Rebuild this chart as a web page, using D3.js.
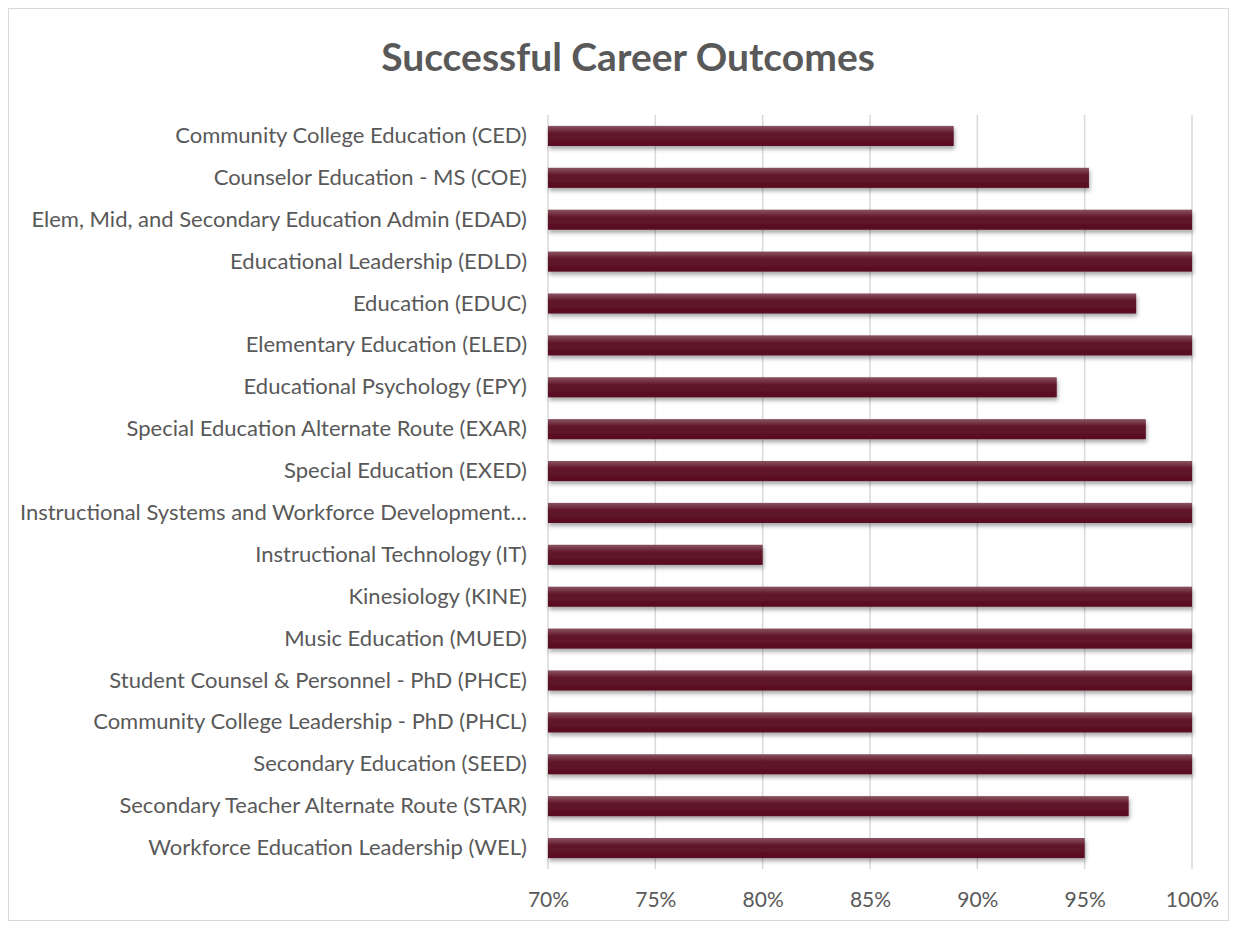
<!DOCTYPE html>
<meta charset="utf-8">
<title>Successful Career Outcomes</title>
<style>
body { margin: 0; background: #fff; }
text { font-family: Lato, "Open Sans", sans-serif; fill: #595959; }
.title { font-size: 39px; font-weight: bold; }
.grid line { stroke: #d9d9d9; stroke-width: 1.5px; }
</style>
<body>
<script src="https://cdn.jsdelivr.net/npm/d3@7"></script>
<script>

var programs = [
  "Community College Education (CED)",
  "Counselor Education - MS (COE)",
  "Elem, Mid, and Secondary Education Admin (EDAD)",
  "Educational Leadership (EDLD)",
  "Education (EDUC)",
  "Elementary Education (ELED)",
  "Educational Psychology (EPY)",
  "Special Education Alternate Route (EXAR)",
  "Special Education (EXED)",
  "Instructional Systems and Workforce Development…",
  "Instructional Technology (IT)",
  "Kinesiology (KINE)",
  "Music Education (MUED)",
  "Student Counsel & Personnel - PhD (PHCE)",
  "Community College Leadership - PhD (PHCL)",
  "Secondary Education (SEED)",
  "Secondary Teacher Alternate Route (STAR)",
  "Workforce Education Leadership (WEL)"
];

var outcomes = [88.9, 95.2, 100, 100, 97.4, 100, 93.7, 97.85, 100, 100,
                80.0, 100, 100, 100, 100, 100, 97.05, 95.0];

var ticks = [70, 75, 80, 85, 90, 95, 100];

var width = 1236,
    height = 926,
    plotLeft = 548, plotRight = 1192, plotTop = 115, plotBottom = 869;

var svg = d3.select("body").append("svg")
    .attr("width", width)
    .attr("height", height);

var defs = svg.append("defs");

var grad = defs.append("linearGradient")
    .attr("id", "barfill")
    .attr("x1", 0).attr("y1", 0).attr("x2", 0).attr("y2", 1);
grad.append("stop").attr("offset", "0%").attr("stop-color", "#8a5462");
grad.append("stop").attr("offset", "35%").attr("stop-color", "#63192c");
grad.append("stop").attr("offset", "100%").attr("stop-color", "#580c21");

var shadow = defs.append("filter")
    .attr("id", "shadow")
    .attr("x", "-5%").attr("y", "-30%").attr("width", "110%").attr("height", "180%");
shadow.append("feDropShadow")
    .attr("dx", 1).attr("dy", 3).attr("stdDeviation", 2)
    .attr("flood-color", "#000").attr("flood-opacity", 0.35);

// chart border
svg.append("rect")
    .attr("x", 8.5).attr("y", 8.5)
    .attr("width", 1220).attr("height", 912)
    .attr("fill", "none")
    .attr("stroke", "#d9d9d9");

svg.append("text")
    .attr("class", "title")
    .attr("x", 628)
    .attr("y", 71)
    .attr("text-anchor", "middle")
    .text("Successful Career Outcomes");

var x = d3.scaleLinear()
    .domain([70, 100])
    .range([plotLeft, plotRight]);

var y = d3.scaleBand()
    .domain(programs)
    .range([plotTop, plotBottom])
    .paddingInner(0.52)
    .paddingOuter(0.26);

svg.append("g")
    .attr("class", "grid")
    .selectAll("line")
    .data(ticks)
  .enter().append("line")
    .attr("x1", function(d) { return x(d); })
    .attr("x2", function(d) { return x(d); })
    .attr("y1", plotTop)
    .attr("y2", plotBottom);

svg.append("g")
    .selectAll("rect")
    .data(outcomes)
  .enter().append("rect")
    .attr("x", x(70))
    .attr("y", function(d, i) { return y(programs[i]); })
    .attr("width", function(d) { return x(d) - x(70); })
    .attr("height", y.bandwidth())
    .attr("fill", "url(#barfill)")
    .attr("filter", "url(#shadow)");

var xAxis = svg.append("g")
    .attr("transform", "translate(0," + plotBottom + ")")
    .call(d3.axisBottom(x).tickValues(ticks).tickSize(0).tickPadding(23)
      .tickFormat(function(d) { return d + "%"; }));
xAxis.select(".domain").remove();
xAxis.selectAll("text")
    .attr("font-size", 21)
    .attr("fill", "#595959")
    .style("font-family", "Lato, 'Open Sans', sans-serif");

var yAxis = svg.append("g")
    .attr("transform", "translate(" + plotLeft + ",0)")
    .call(d3.axisLeft(y).tickSize(0).tickPadding(21));
yAxis.select(".domain").remove();
yAxis.selectAll("text")
    .attr("font-size", 22)
    .attr("fill", "#595959")
    .style("font-family", "Lato, 'Open Sans', sans-serif");

</script>
</body>
